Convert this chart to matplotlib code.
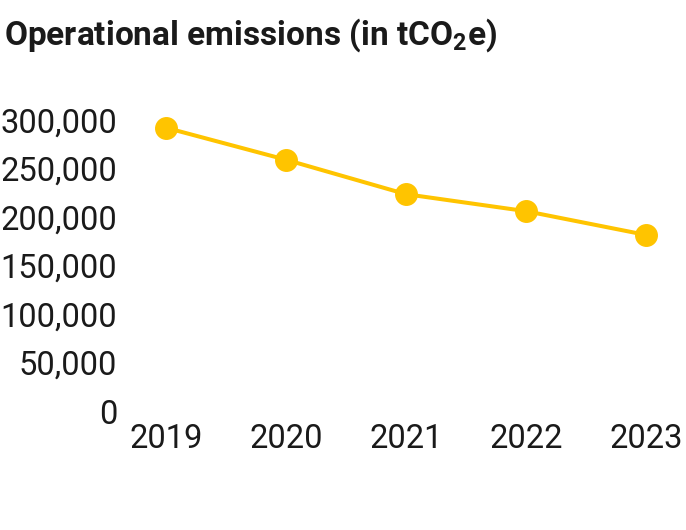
import numpy as np
import matplotlib
matplotlib.use("Agg")
import matplotlib.pyplot as plt

years = ["2019", "2020", "2021", "2022", "2023"]
emissions = [292000, 259000, 223500, 206000, 181500]
y_ticks = [0, 50000, 100000, 150000, 200000, 250000, 300000]

text_color = "#1a1a1a"
line_color = "#FFC400"

plt.rcParams["font.family"] = ["Roboto", "DejaVu Sans"]
plt.rcParams["mathtext.fontset"] = "custom"
plt.rcParams["mathtext.rm"] = "Roboto"
plt.rcParams["mathtext.bf"] = "Roboto:bold"

W, H = 686, 530
fig = plt.figure(figsize=(W / 100, H / 100), dpi=100)

# axes in pixel terms: left 120, right 686, bottom y=411, top y=100
ax = fig.add_axes([120 / W, (H - 411) / H, (686 - 120) / W, (411 - 100) / H])

x = np.arange(len(years))
ax.plot(x, emissions, color=line_color, lw=2.9, marker="o", ms=15.5,
        solid_capstyle="round", clip_on=False)

ax.set_xlim(-0.383, 4.333)
ax.set_ylim(0, 320600)
ax.set_xticks(x)
ax.set_xticklabels(years)
ax.set_yticks(y_ticks)
ax.set_yticklabels([f"{v:,}" for v in y_ticks])
ax.tick_params(length=0, labelsize=23.5, colors=text_color)
ax.tick_params(axis="y", pad=2)
ax.tick_params(axis="x", pad=9)
for s in ax.spines.values():
    s.set_visible(False)

fig.text(4 / W, 1 - 45 / H, r"Operational emissions (in tCO$_\mathbf{2}$e)",
         fontsize=24, fontweight="bold", color=text_color,
         ha="left", va="baseline")

fig.savefig("out.png", dpi=100)
